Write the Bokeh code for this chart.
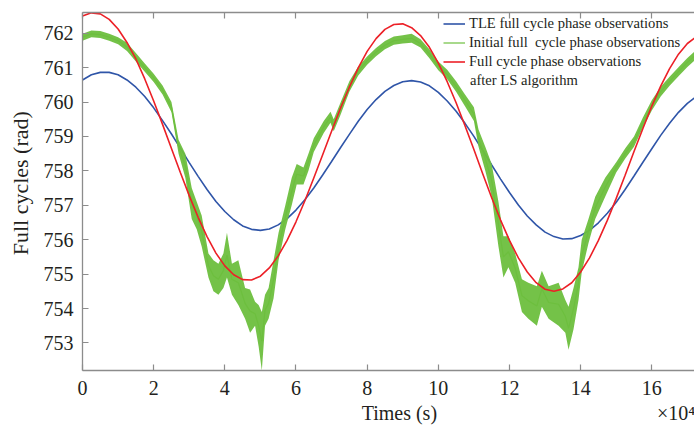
from bokeh.plotting import figure
from bokeh.models import LinearAxis, Legend, LegendItem, Label, Range1d, FixedTicker
from bokeh.embed import file_html
from bokeh.resources import INLINE

# time in units of 1e4 s
time_1e4s = [0, 0.25, 0.5, 0.75, 1, 1.25, 1.5, 1.75, 2, 2.25,
             2.5, 2.75, 3, 3.25, 3.5, 3.75, 4, 4.25, 4.5, 4.75,
             5, 5.25, 5.5, 5.75, 6, 6.25, 6.5, 6.75, 7, 7.25,
             7.5, 7.75, 8, 8.25, 8.5, 8.75, 9, 9.25, 9.5, 9.75,
             10, 10.25, 10.5, 10.75, 11, 11.25, 11.5, 11.75, 12, 12.25,
             12.5, 12.75, 13, 13.25, 13.5, 13.75, 14, 14.25, 14.5, 14.75,
             15, 15.25, 15.5, 15.75, 16, 16.25, 16.5, 16.75, 17, 17.25,
             17.28]

tle_cycles = [760.64, 760.79, 760.86, 760.86, 760.79, 760.64, 760.43, 760.16, 759.83, 759.46,
              759.07, 758.66, 758.24, 757.84, 757.46, 757.11, 756.82, 756.58, 756.40, 756.30,
              756.27, 756.31, 756.43, 756.61, 756.86, 757.16, 757.50, 757.88, 758.27, 758.67,
              759.06, 759.44, 759.78, 760.07, 760.31, 760.48, 760.59, 760.62, 760.58, 760.47,
              760.28, 760.03, 759.73, 759.38, 759.00, 758.59, 758.17, 757.76, 757.37, 757.01,
              756.69, 756.43, 756.22, 756.09, 756.02, 756.03, 756.12, 756.27, 756.49, 756.77,
              757.09, 757.46, 757.85, 758.25, 758.64, 759.03, 759.38, 759.70, 759.96, 760.16,
              760.18]

ls_cycles = [762.50, 762.59, 762.56, 762.40, 762.12, 761.73, 761.25, 760.67, 760.03, 759.35,
             758.65, 757.95, 757.28, 756.65, 756.09, 755.61, 755.24, 754.98, 754.84, 754.83,
             754.94, 755.18, 755.53, 755.98, 756.52, 757.13, 757.79, 758.47, 759.15, 759.82,
             760.43, 760.99, 761.47, 761.84, 762.11, 762.25, 762.27, 762.16, 761.93, 761.59,
             761.13, 760.59, 759.98, 759.31, 758.62, 757.91, 757.22, 756.57, 755.98, 755.47,
             755.06, 754.75, 754.56, 754.50, 754.57, 754.75, 755.06, 755.47, 755.98, 756.56,
             757.20, 757.87, 758.56, 759.23, 759.88, 760.46, 760.97, 761.39, 761.70, 761.89,
             761.91]

# initial (noisy) observations: lower / upper envelope of the noise band
green_time = [0, 0.25, 0.5, 0.75, 1.0, 1.25, 1.5, 1.75, 2.0, 2.25,
              2.5, 2.7, 2.89, 3.07, 3.21, 3.35, 3.54, 3.68, 3.82, 3.96,
              4.06, 4.2, 4.38, 4.57, 4.71, 4.85, 4.95, 5.04, 5.13, 5.23,
              5.37, 5.51, 5.70, 5.88, 6.02, 6.21, 6.35, 6.5, 6.78, 6.97,
              7.06, 7.25, 7.5, 7.75, 8.0, 8.25, 8.5, 8.75, 9.0, 9.25,
              9.5, 9.75, 10.0, 10.25, 10.5, 10.75, 11.0, 11.13, 11.32, 11.5,
              11.69, 11.83, 11.97, 12.16, 12.35, 12.53, 12.77, 12.91, 13.1, 13.38,
              13.57, 13.66, 13.8, 13.94, 14.03, 14.22, 14.41, 14.69, 15.0, 15.25,
              15.5, 15.75, 16.0, 16.25, 16.5, 16.75, 17.0, 17.25, 17.28]

initial_low = [761.78, 761.88, 761.86, 761.78, 761.68, 761.48, 761.18, 760.88, 760.58, 760.22,
               759.70, 758.50, 757.80, 756.60, 756.30, 755.80, 754.90, 754.50, 754.40, 754.60,
               754.90, 754.40, 754.10, 753.70, 753.30, 753.50, 752.90, 752.20, 753.50, 753.70,
               754.30, 755.40, 756.30, 757.00, 757.60, 757.60, 758.00, 758.55, 759.10, 759.40,
               759.15, 759.62, 760.30, 760.77, 761.08, 761.33, 761.53, 761.66, 761.70, 761.72,
               761.58, 761.27, 760.92, 760.66, 760.30, 759.88, 759.45, 758.70, 758.00, 757.25,
               755.80, 754.90, 755.20, 754.75, 753.90, 753.70, 753.50, 754.05, 753.70, 753.50,
               753.30, 752.80, 753.40, 754.25, 755.05, 755.90, 756.60, 757.25, 757.95, 758.35,
               758.70, 759.25, 759.75, 760.16, 760.47, 760.75, 761.02, 761.25, 761.27]

initial_high = [761.98, 762.08, 762.06, 761.98, 761.88, 761.72, 761.42, 761.12, 760.82, 760.48,
                760.00, 758.90, 758.50, 757.50, 757.10, 756.70, 755.60, 755.40, 755.30, 755.60,
                756.20, 755.30, 755.40, 754.60, 754.55, 754.20, 754.10, 753.90, 754.40, 754.60,
                755.40, 756.20, 757.00, 757.80, 758.20, 758.10, 758.50, 758.95, 759.45, 759.72,
                759.50, 759.98, 760.60, 761.03, 761.32, 761.57, 761.77, 761.90, 761.94, 761.98,
                761.82, 761.53, 761.18, 760.94, 760.60, 760.22, 759.85, 759.20, 758.70, 758.20,
                757.10, 756.10, 756.10, 755.60, 754.85, 754.75, 754.65, 755.10, 754.65, 754.75,
                754.25, 754.05, 754.60, 755.20, 756.00, 756.60, 757.25, 757.80, 758.25, 758.65,
                759.00, 759.55, 760.05, 760.44, 760.73, 761.01, 761.28, 761.51, 761.53]

x_ticks = [0, 2, 4, 6, 8, 10, 12, 14, 16]
y_ticks = [753, 754, 755, 756, 757, 758, 759, 760, 761, 762]

BLUE = "#2f55a8"
GREEN = "#6dbf3e"
RED = "#ec2027"
AXIS = "#8c8c8c"
TEXT = "#231f20"
FONT = "Liberation Serif"
NBSP = "\u00a0"

p = figure(width=694, height=426, output_backend="svg", toolbar_location=None,
           x_range=Range1d(0, 17.2), y_range=Range1d(752.2, 762.6),
           min_border_left=82, min_border_right=0, min_border_top=12, min_border_bottom=55,
           x_axis_location=None, y_axis_location=None)
p.outline_line_color = None
p.grid.visible = False
p.background_fill_color = "white"
p.border_fill_color = "white"

# x label carries the axis multiplier at its right end (as in the reference)
x_label = NBSP * 56 + "Times (s)" + NBSP * 44 + "×10⁴"
xaxis = LinearAxis(ticker=FixedTicker(ticks=x_ticks), axis_label=x_label)
yaxis = LinearAxis(ticker=FixedTicker(ticks=y_ticks), axis_label=NBSP * 3 + "Full cycles (rad)")
top_axis = LinearAxis(ticker=FixedTicker(ticks=x_ticks),
                      major_label_overrides={t: "" for t in x_ticks},
                      major_label_standoff=0)
for ax in (xaxis, yaxis, top_axis):
    ax.axis_line_color = AXIS
    ax.axis_line_width = 1.3
    ax.major_tick_line_color = AXIS
    ax.major_tick_line_width = 1.2
    ax.major_tick_in = 6
    ax.major_tick_out = 0
    ax.minor_tick_line_color = None
    ax.major_label_text_font = FONT
    ax.major_label_text_color = TEXT
    ax.major_label_text_font_size = "20px"
    ax.axis_label_text_font = FONT
    ax.axis_label_text_font_style = "normal"
    ax.axis_label_text_color = TEXT
xaxis.axis_label_text_font_size = "20px"
yaxis.axis_label_text_font_size = "22px"
xaxis.major_label_standoff = 10
xaxis.axis_label_standoff = 4
yaxis.major_label_standoff = 9
yaxis.axis_label_standoff = 8
p.add_layout(xaxis, "below")
p.add_layout(yaxis, "left")
p.add_layout(top_axis, "above")

r_blue = p.line(time_1e4s, tle_cycles, line_color=BLUE, line_width=1.6)
r_band = p.varea(x=green_time, y1=initial_low, y2=initial_high, fill_color=GREEN, fill_alpha=0.95)
initial_mid = [(a + b) / 2 for a, b in zip(initial_low, initial_high)]
r_green = p.line(green_time, initial_mid, line_color=GREEN, line_width=1.2)
r_red = p.line(time_1e4s, ls_cycles, line_color=RED, line_width=1.6)

legend = Legend(items=[
    LegendItem(label="TLE full cycle phase observations", renderers=[r_blue]),
    LegendItem(label="Initial full  cycle phase observations", renderers=[r_green]),
    LegendItem(label="Full cycle phase observations", renderers=[r_red]),
], location=(361, 299))
legend.background_fill_alpha = 0
legend.border_line_color = None
legend.padding = 0
legend.margin = 0
legend.spacing = 0
legend.label_height = 19
legend.glyph_height = 19
legend.glyph_width = 22
legend.label_standoff = 4
legend.label_text_font = FONT
legend.label_text_font_size = "14.6px"
legend.label_text_color = TEXT
p.add_layout(legend)

p.add_layout(Label(x=10.89, y=760.64, text="after LS algorithm", text_font=FONT,
                   text_font_size="14.6px", text_color=TEXT, text_baseline="middle"))

open("out.html", "w").write(file_html(p, INLINE))
